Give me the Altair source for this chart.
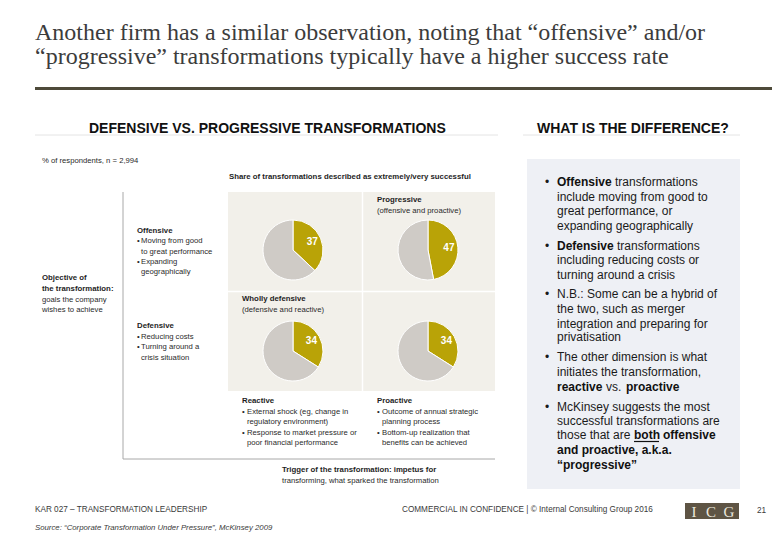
import altair as alt
import pandas as pd

# ---------------- data ----------------
cell_objective = ["Offensive", "Offensive", "Defensive", "Defensive"]
cell_trigger = ["Reactive", "Proactive", "Reactive", "Proactive"]
success_pct = [37, 47, 34, 34]

objective_order = ["Offensive", "Defensive"]
trigger_order = ["Reactive", "Proactive"]

# ---------------- style ----------------
GOLD = "#b9a307"
GRAY = "#cfcbc6"
PANEL = "#f2f0ea"
RPANEL = "#eef0f5"
SERIF = "'Liberation Serif', 'Times New Roman', serif"
SANS = "'Liberation Sans', Arial, sans-serif"
NARROW = "'Liberation Sans Narrow', 'Arial Narrow', 'Liberation Sans', sans-serif"

X_PIX = alt.Scale(domain=[0, 780], range=[-8, 772], nice=False, zero=False)
Y_PIX = alt.Scale(domain=[0, 540], range=[-8, 532], nice=False, zero=False)
THETA = alt.Scale(domain=[0, 100], range=[0, 6.283185307])
X_CELL = alt.Scale(type="point", domain=trigger_order, range=[285, 420], padding=0)
Y_CELL = alt.Scale(type="point", domain=objective_order, range=[242, 343], padding=0)


def text_layer(rows, font, size, weight="normal", color="#222222", style="normal", align="left"):
    df = pd.DataFrame(rows, columns=["t", "x", "y"])
    return alt.Chart(df).mark_text(
        font=font, fontSize=size, fontWeight=weight, color=color,
        fontStyle=style, align=align, baseline="middle",
    ).encode(
        x=alt.X("x:Q", scale=X_PIX, axis=None),
        y=alt.Y("y:Q", scale=Y_PIX, axis=None),
        text="t:N",
    )


def rect_layer(rows, color):
    df = pd.DataFrame(rows, columns=["x", "x2", "y", "y2"])
    return alt.Chart(df).mark_rect(color=color).encode(
        x=alt.X("x:Q", scale=X_PIX, axis=None), x2="x2:Q",
        y=alt.Y("y:Q", scale=Y_PIX, axis=None), y2="y2:Q",
    )


def rule_layer(rows, color, width):
    df = pd.DataFrame(rows, columns=["x", "x2", "y", "y2"])
    return alt.Chart(df).mark_rule(color=color, strokeWidth=width).encode(
        x=alt.X("x:Q", scale=X_PIX, axis=None), x2="x2:Q",
        y=alt.Y("y:Q", scale=Y_PIX, axis=None), y2="y2:Q",
    )


# ---------------- pies ----------------
pie_rows = []
label_rows = []
for o, t, v in zip(cell_objective, cell_trigger, success_pct):
    pie_rows.append({"objective": o, "trigger": t, "part": "Successful", "t0": 0, "t1": v})
    pie_rows.append({"objective": o, "trigger": t, "part": "Other", "t0": v, "t1": 100})
    label_rows.append({"objective": o, "trigger": t, "mid": v / 2, "label": str(v)})
pie_df = pd.DataFrame(pie_rows)
label_df = pd.DataFrame(label_rows)

pies = alt.Chart(pie_df).mark_arc(outerRadius=30, stroke="white", strokeWidth=1).encode(
    x=alt.X("trigger:N", scale=X_CELL, axis=None),
    y=alt.Y("objective:N", scale=Y_CELL, axis=None),
    theta=alt.Theta("t0:Q", scale=THETA, stack=False),
    theta2="t1:Q",
    color=alt.Color("part:N", scale=alt.Scale(domain=["Successful", "Other"], range=[GOLD, GRAY]), legend=None),
)
pie_labels = alt.Chart(label_df).mark_text(
    radius=21, font=NARROW, fontSize=10, fontWeight="bold", color="white", baseline="middle", align="center"
).encode(
    x=alt.X("trigger:N", scale=X_CELL, axis=None),
    y=alt.Y("objective:N", scale=Y_CELL, axis=None),
    theta=alt.Theta("mid:Q", scale=THETA, stack=False),
    text="label:N",
)

# ---------------- shapes ----------------
panels_left = rect_layer([(228, 495, 192, 391)], PANEL)
panel_right = rect_layer([(527, 740, 159, 489)], RPANEL)
logo_box = rect_layer([(685, 739, 503, 519)], "#5e5444")
title_rule = rule_layer([(35, 780, 88.5, 88.5)], "#4e4a3a", 3)
header_rules = rule_layer([(35, 498, 135, 135), (523, 740, 135, 135)], "#e4e4e4", 1)
cell_dividers = rule_layer([(362.5, 362.5, 192, 391), (228, 495, 291.5, 291.5)], "white", 1.5)
axis_lines = rule_layer([(123, 123, 192, 459), (123, 495, 459, 459)], "#a8a8a8", 1)
underline = rule_layer([(634, 659, 441.5, 441.5)], "#111111", 1.2)

# ---------------- texts ----------------
title = text_layer([
    ("Another firm has a similar observation, noting that \u201coffensive\u201d and/or", 35, 33),
    ("\u201cprogressive\u201d transformations typically have a higher success rate", 35, 57),
], SERIF, 24, color="#3c3c3c")

headers = text_layer([
    ("DEFENSIVE VS. PROGRESSIVE TRANSFORMATIONS", 89, 129),
    ("WHAT IS THE DIFFERENCE?", 537, 129),
], SANS, 14, weight="bold", color="#111111")

left_bold = text_layer([
    ("Share of transformations described as extremely/very successful", 229, 177),
    ("Offensive", 137, 231),
    ("Defensive", 137, 326),
    ("Objective of", 42, 278),
    ("the transformation:", 42, 289),
    ("Progressive", 377, 200),
    ("Wholly defensive", 242, 299),
    ("Reactive", 242, 401),
    ("Proactive", 377, 401),
    ("Trigger of the transformation: impetus for", 282, 470),
], NARROW, 7.8, weight="bold", color="#1e1e1e")

left_body = text_layer([
    ("% of respondents, n = 2,994", 42, 161),
    ("\u2022", 137, 241), ("Moving from good", 141, 241),
    ("to great performance", 141, 252),
    ("\u2022", 137, 262), ("Expanding", 141, 262),
    ("geographically", 141, 272),
    ("goals the company", 42, 300),
    ("wishes to achieve", 42, 310),
    ("\u2022", 137, 337), ("Reducing costs", 141, 337),
    ("\u2022", 137, 347), ("Turning around a", 141, 347),
    ("crisis situation", 141, 358),
    ("(offensive and proactive)", 377, 211),
    ("(defensive and reactive)", 242, 310),
    ("\u2022", 242, 412), ("External shock (eg, change in", 247, 412),
    ("regulatory environment)", 247, 422),
    ("\u2022", 242, 433), ("Response to market pressure or", 247, 433),
    ("poor financial performance", 247, 443),
    ("\u2022", 377, 412), ("Outcome of annual strategic", 382, 412),
    ("planning process", 382, 422),
    ("\u2022", 377, 433), ("Bottom-up realization that", 382, 433),
    ("benefits can be achieved", 382, 443),
    ("transforming, what sparked the transformation", 282, 481),
], NARROW, 7.7, color="#2a2a2a")

right_bold = text_layer([
    ("Offensive", 557, 182),
    ("Defensive", 557, 246),
    ("reactive", 557, 387),
    ("proactive", 626, 387),
    ("both", 634, 435),
    ("offensive", 663, 435),
    ("and proactive, a.k.a.", 557, 450),
    ("\u201cprogressive\u201d", 557, 465),
], SANS, 12, weight="bold", color="#111111")

right_body = text_layer([
    ("\u2022", 545, 182), ("transformations", 615, 182),
    ("include moving from good to", 557, 197),
    ("great performance, or", 557, 211),
    ("expanding geographically", 557, 226),
    ("\u2022", 545, 246), ("transformations", 617, 246),
    ("including reducing costs or", 557, 260),
    ("turning around a crisis", 557, 275),
    ("\u2022", 545, 294), ("N.B.: Some can be a hybrid of", 557, 294),
    ("the two, such as merger", 557, 309),
    ("integration and preparing for", 557, 324),
    ("privatisation", 557, 337),
    ("\u2022", 545, 357), ("The other dimension is what", 557, 357),
    ("initiates the transformation,", 557, 372),
    ("vs.", 606, 387),
    ("\u2022", 545, 407), ("McKinsey suggests the most", 557, 407),
    ("successful transformations are", 557, 421),
    ("those that are", 557, 435),
], SANS, 12, color="#1a1a1a")

footer = text_layer([
    ("KAR 027 \u2013 TRANSFORMATION LEADERSHIP", 35, 510),
    ("COMMERCIAL IN CONFIDENCE  |  \u00a9 Internal Consulting Group 2016", 402, 510),
    ("21", 757, 511),
], SANS, 8.2, color="#3a3a3a")

source = text_layer([
    ("Source: \u201cCorporate Transformation Under Pressure\u201d, McKinsey 2009", 35, 527.5),
], SANS, 7.8, color="#3a3a3a", style="italic")

logo = text_layer([
    ("I", 694, 512), ("C", 711, 512), ("G", 729, 512),
], SERIF, 15, color="#ece8de", align="center")

chart = alt.layer(
    panels_left, panel_right, logo_box, title_rule, header_rules, cell_dividers, axis_lines,
    pies, pie_labels, underline,
    title, headers, left_bold, left_body, right_bold, right_body, footer, source, logo,
).resolve_scale(
    x="independent", y="independent", theta="independent", color="independent"
).properties(
    width=764, height=524, padding=0, autosize="none"
).configure_view(stroke=None)

chart.save("out.html", embed_options={"renderer": "svg", "actions": False})
